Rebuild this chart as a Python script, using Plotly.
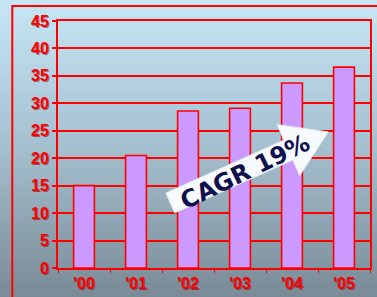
import plotly.graph_objects as go

years = ["'00", "'01", "'02", "'03", "'04", "'05"]
values = [15, 20.5, 28.6, 29.1, 33.7, 36.6]
y_ticks = [0, 5, 10, 15, 20, 25, 30, 35, 40, 45]
cagr_label = "CAGR 19%"

W, H = 377, 297
L, R, T, B = 58, 5, 21, 29
pw, ph = W - L - R, H - T - B

x_pos = list(range(len(years)))

fig = go.Figure()
fig.add_trace(go.Bar(
    x=x_pos, y=values, width=0.4,
    marker=dict(color="#cc99ff", line=dict(color="#ff0000", width=1.6)),
    hoverinfo="skip",
))

# background gradient strips (paper coords covering the full figure)
stops = [(0.0, (198, 230, 246)), (0.45, (168, 196, 212)), (1.0, (122, 138, 150))]
def col(t):
    for (t0, c0), (t1, c1) in zip(stops[:-1], stops[1:]):
        if t <= t1:
            f = (t - t0) / (t1 - t0)
            return "rgb(%d,%d,%d)" % tuple(round(a + (b - a) * f) for a, b in zip(c0, c1))
    return "rgb(%d,%d,%d)" % stops[-1][1]

shapes = []
n = 60
for i in range(n):
    py0 = H * i / n
    py1 = H * (i + 1) / n + 1
    shapes.append(dict(
        type="rect", xref="paper", yref="paper", layer="below",
        x0=(0 - L) / pw - 0.01, x1=(W - L) / pw + 0.01,
        y0=(H - B - py1) / ph, y1=(H - B - py0) / ph,
        fillcolor=col((i + 0.5) / n), line=dict(width=0),
    ))

# outer red frame
shapes.append(dict(
    type="rect", xref="paper", yref="paper", layer="below",
    x0=(12 - L) / pw, x1=(W + 10 - L) / pw,
    y0=(H - B - (H + 10)) / ph, y1=(H - B - 6) / ph,
    line=dict(color="#ff0000", width=2), fillcolor="rgba(0,0,0,0)",
))

# CAGR arrow (pixel geometry converted to data coords)
def px2d(px, py):
    return ((px - L) / (pw / 6) - 0.5, (H - B - py) / (ph / 45))

pts = [(166.5, 193), (285.3, 140.1), (278.4, 124.5), (330, 132),
       (301.2, 175.7), (294.3, 160.1), (175.5, 213)]
dpts = [px2d(*p) for p in pts]
path = "M " + " L ".join("%.4f,%.4f" % p for p in dpts) + " Z"
shapes.append(dict(
    type="path", xref="x", yref="y", path=path, layer="above",
    fillcolor="#f8fbfd", line=dict(color="#dde8ef", width=1),
))

ax_x, ax_y = px2d(246, 172)
fig.add_annotation(
    x=ax_x, y=ax_y, xref="x", yref="y", text="<b>%s</b>" % cagr_label,
    showarrow=False, textangle=-26,
    font=dict(family="DejaVu Sans", size=24, color="#10104e"),
)

tick_font = dict(family="Liberation Sans", size=16, color="#ff0000",
                 weight="bold", shadow="1px 1px 0px rgba(110,0,0,0.55)")

fig.update_layout(
    width=W, height=H,
    margin=dict(l=L, r=R, t=T, b=B, pad=0),
    paper_bgcolor="rgba(0,0,0,0)",
    plot_bgcolor="rgba(0,0,0,0)",
    showlegend=False,
    shapes=shapes,
    xaxis=dict(
        range=[-0.5, 5.5], tickvals=x_pos, ticktext=years,
        ticks="", showgrid=False, zeroline=False,
        showline=True, linecolor="#ff0000", linewidth=2, mirror=True,
        tickfont=tick_font, fixedrange=True,
        minor=dict(tickvals=[-0.5, 0.5, 1.5, 2.5, 3.5, 4.5, 5.5], ticks="outside",
                   ticklen=3, tickcolor="#ff0000", tickwidth=1, showgrid=False),
    ),
    yaxis=dict(
        range=[0, 45], tickvals=y_ticks, ticks="outside", ticklen=4,
        tickcolor="#ff0000", tickwidth=1.5,
        showgrid=True, gridcolor="#ff0000", gridwidth=2,
        zeroline=False, showline=True, linecolor="#ff0000", linewidth=2, mirror=True,
        tickfont=tick_font, fixedrange=True,
    ),
)

fig.write_html(
    "out.html",
    config={"displayModeBar": False},
    post_script="document.body.style.margin='0';document.body.style.padding='0';document.body.style.overflow='hidden';",
)
